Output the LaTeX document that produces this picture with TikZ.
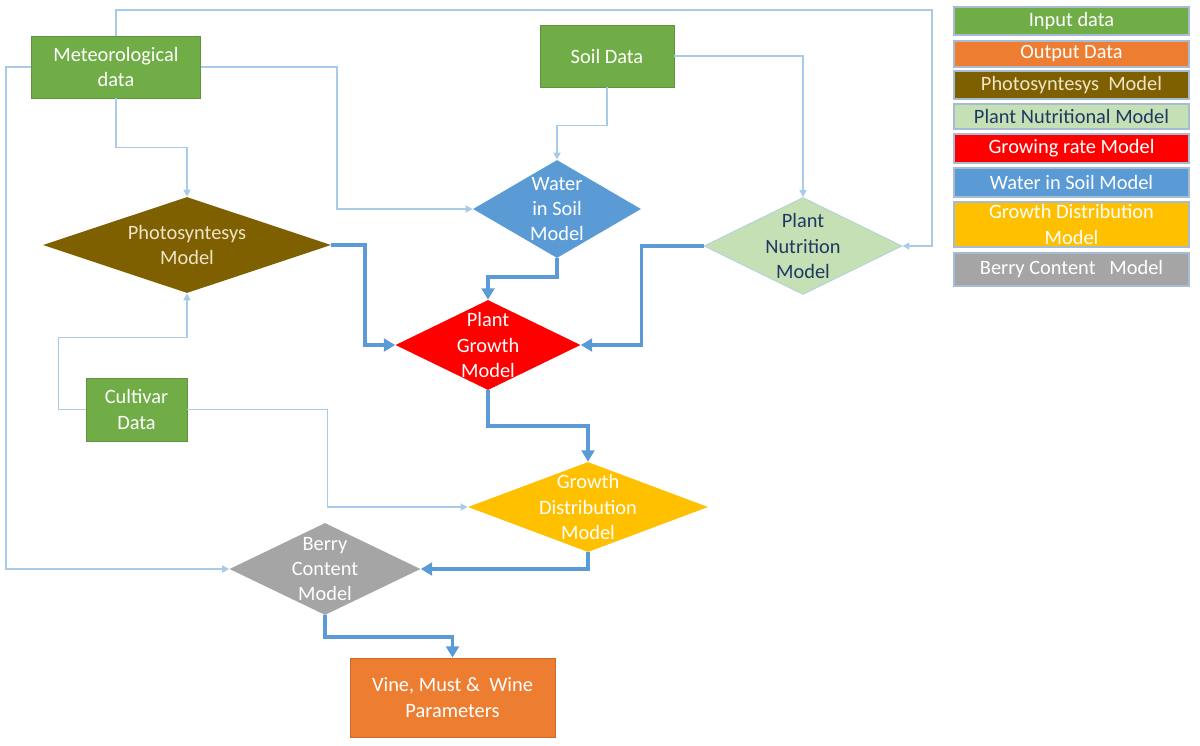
\documentclass[tikz,border=0pt]{standalone}
\usepackage{fontspec}
\setmainfont{Carlito}
\usetikzlibrary{shapes.geometric,arrows.meta}
\definecolor{ingreen}{HTML}{70AD47}
\definecolor{outorange}{HTML}{ED7D31}
\definecolor{photobrown}{HTML}{7F6000}
\definecolor{nutrgreen}{HTML}{C5E0B4}
\definecolor{growred}{HTML}{FF0000}
\definecolor{waterblue}{HTML}{5B9BD5}
\definecolor{distrgold}{HTML}{FFC000}
\definecolor{berrygray}{HTML}{A5A5A5}
\definecolor{navytext}{HTML}{1F3864}
\definecolor{tantext}{HTML}{EFE4C8}
\definecolor{feedblue}{HTML}{A9CBEA}
\definecolor{flowblue}{HTML}{5B9BD5}
\definecolor{legedge}{HTML}{A7BBD3}
\tikzset{
    every node/.style={font=\fontsize{14.5}{18}\selectfont, text=white, align=center},
    databox/.style={rectangle, inner sep=0pt, draw=#1!85!black, line width=0.5pt, fill=#1},
    dia/.style={diamond, inner sep=0pt, fill=#1},
    legbox/.style={rectangle, inner sep=0pt, minimum width=5.875cm, draw=legedge, line width=0.8pt, fill=#1},
    feed/.style={draw=feedblue, line width=1.1pt, -{Triangle[length=5pt,width=5pt]}},
    flow/.style={draw=flowblue, line width=2.6pt, -{Triangle[length=8pt,width=9pt]}}
}
\begin{document}
\begin{tikzpicture}[x=0.025cm, y=-0.025cm]
    \useasboundingbox (0,0) rectangle (1200,745);

    \node[databox=ingreen, minimum width=4.225cm, minimum height=1.55cm] (met) at (116,67) {Meteorological\\data};
    \node[databox=ingreen, minimum width=3.35cm, minimum height=1.55cm] (soil) at (607,56) {Soil Data};
    \node[databox=ingreen, minimum width=2.525cm, minimum height=1.575cm] (cult) at (136.5,409.5) {Cultivar\\Data};
    \node[databox=outorange, minimum width=5.125cm, minimum height=1.975cm] (out) at (452.5,697.5) {Vine, Must \&~~Wine\\Parameters};

    \node[dia=photobrown, minimum width=7.2cm, minimum height=2.4cm,
          label={[text=tantext]center:{Photosyntesys\\Model}}] (photo) at (187,245) {};
    \node[dia=waterblue, minimum width=4.2cm, minimum height=2.45cm,
          label={center:{Water\\in Soil\\Model}}] (water) at (557,209) {};
    \node[dia=nutrgreen, draw=feedblue!70!nutrgreen, line width=0.6pt, minimum width=4.95cm, minimum height=2.425cm,
          label={[text=navytext]center:{Plant\\Nutrition\\Model}}] (nutr) at (803,246) {};
    \node[dia=growred, minimum width=4.625cm, minimum height=2.25cm,
          label={center:{Plant\\Growth\\Model}}] (growth) at (488,345) {};
    \node[dia=distrgold, minimum width=6.0cm, minimum height=2.25cm,
          label={center:{Growth\\Distribution\\Model}}] (distr) at (588,507) {};
    \node[dia=berrygray, minimum width=4.775cm, minimum height=2.3cm,
          label={center:{Berry\\Content\\Model}}] (berry) at (325,569) {};

    \node[legbox=ingreen, minimum height=0.7cm] (leginput) at (1071.5,21) {Input data};
    \node[legbox=outorange, minimum height=0.65cm] (legoutput) at (1071.5,54) {Output Data};
    \node[legbox=photobrown, minimum height=0.7cm, text=tantext] (legphoto) at (1071.5,85) {Photosyntesys~ Model};
    \node[legbox=nutrgreen, minimum height=0.625cm, text=navytext] (legnutr) at (1071.5,116.5) {Plant Nutritional Model};
    \node[legbox=growred, minimum height=0.725cm] (leggrow) at (1071.5,148.5) {Growing rate Model};
    \node[legbox=waterblue, minimum height=0.725cm] (legwater) at (1071.5,182.5) {Water in Soil Model};
    \node[legbox=distrgold, minimum height=1.125cm] (legdistr) at (1071.5,224.5) {Growth Distribution\\Model};
    \node[legbox=berrygray, minimum height=0.825cm] (legberry) at (1071.5,269.5) {Berry Content~~~Model};

    \draw[feed] (met.north) |- (932,10) |- (nutr.east);
    \draw[feed] (met.west) -- ++(-25,0) |- (berry.west);
    \draw[feed] (met.east) -- ++(136,0) |- (water.west);
    \draw[feed] (met.south) -- ++(0,49) -| (photo.north);
    \draw[feed] (soil.south) -- ++(0,38) -| (water.north);
    \draw[feed] (soil.east) -| (nutr.north);
    \draw[feed] (cult.west) -- ++(-27,0) -- ++(0,-72) -| (photo.south);
    \draw[feed] (cult.east) -- ++(140,0) |- (distr.west);

    \draw[flow] (photo.east) -- ++(34,0) |- (growth.west);
    \draw[flow] (water.south) -- ++(0,19) -| (growth.north);
    \draw[flow] (nutr.west) -- ++(-62,0) |- (growth.east);
    \draw[flow] (growth.south) -- ++(0,36) -| (distr.north);
    \draw[flow] (distr.south) |- (berry.east);
    \draw[flow] (berry.south) -- ++(0,22) -| (out.north);

\end{tikzpicture}
\end{document}
